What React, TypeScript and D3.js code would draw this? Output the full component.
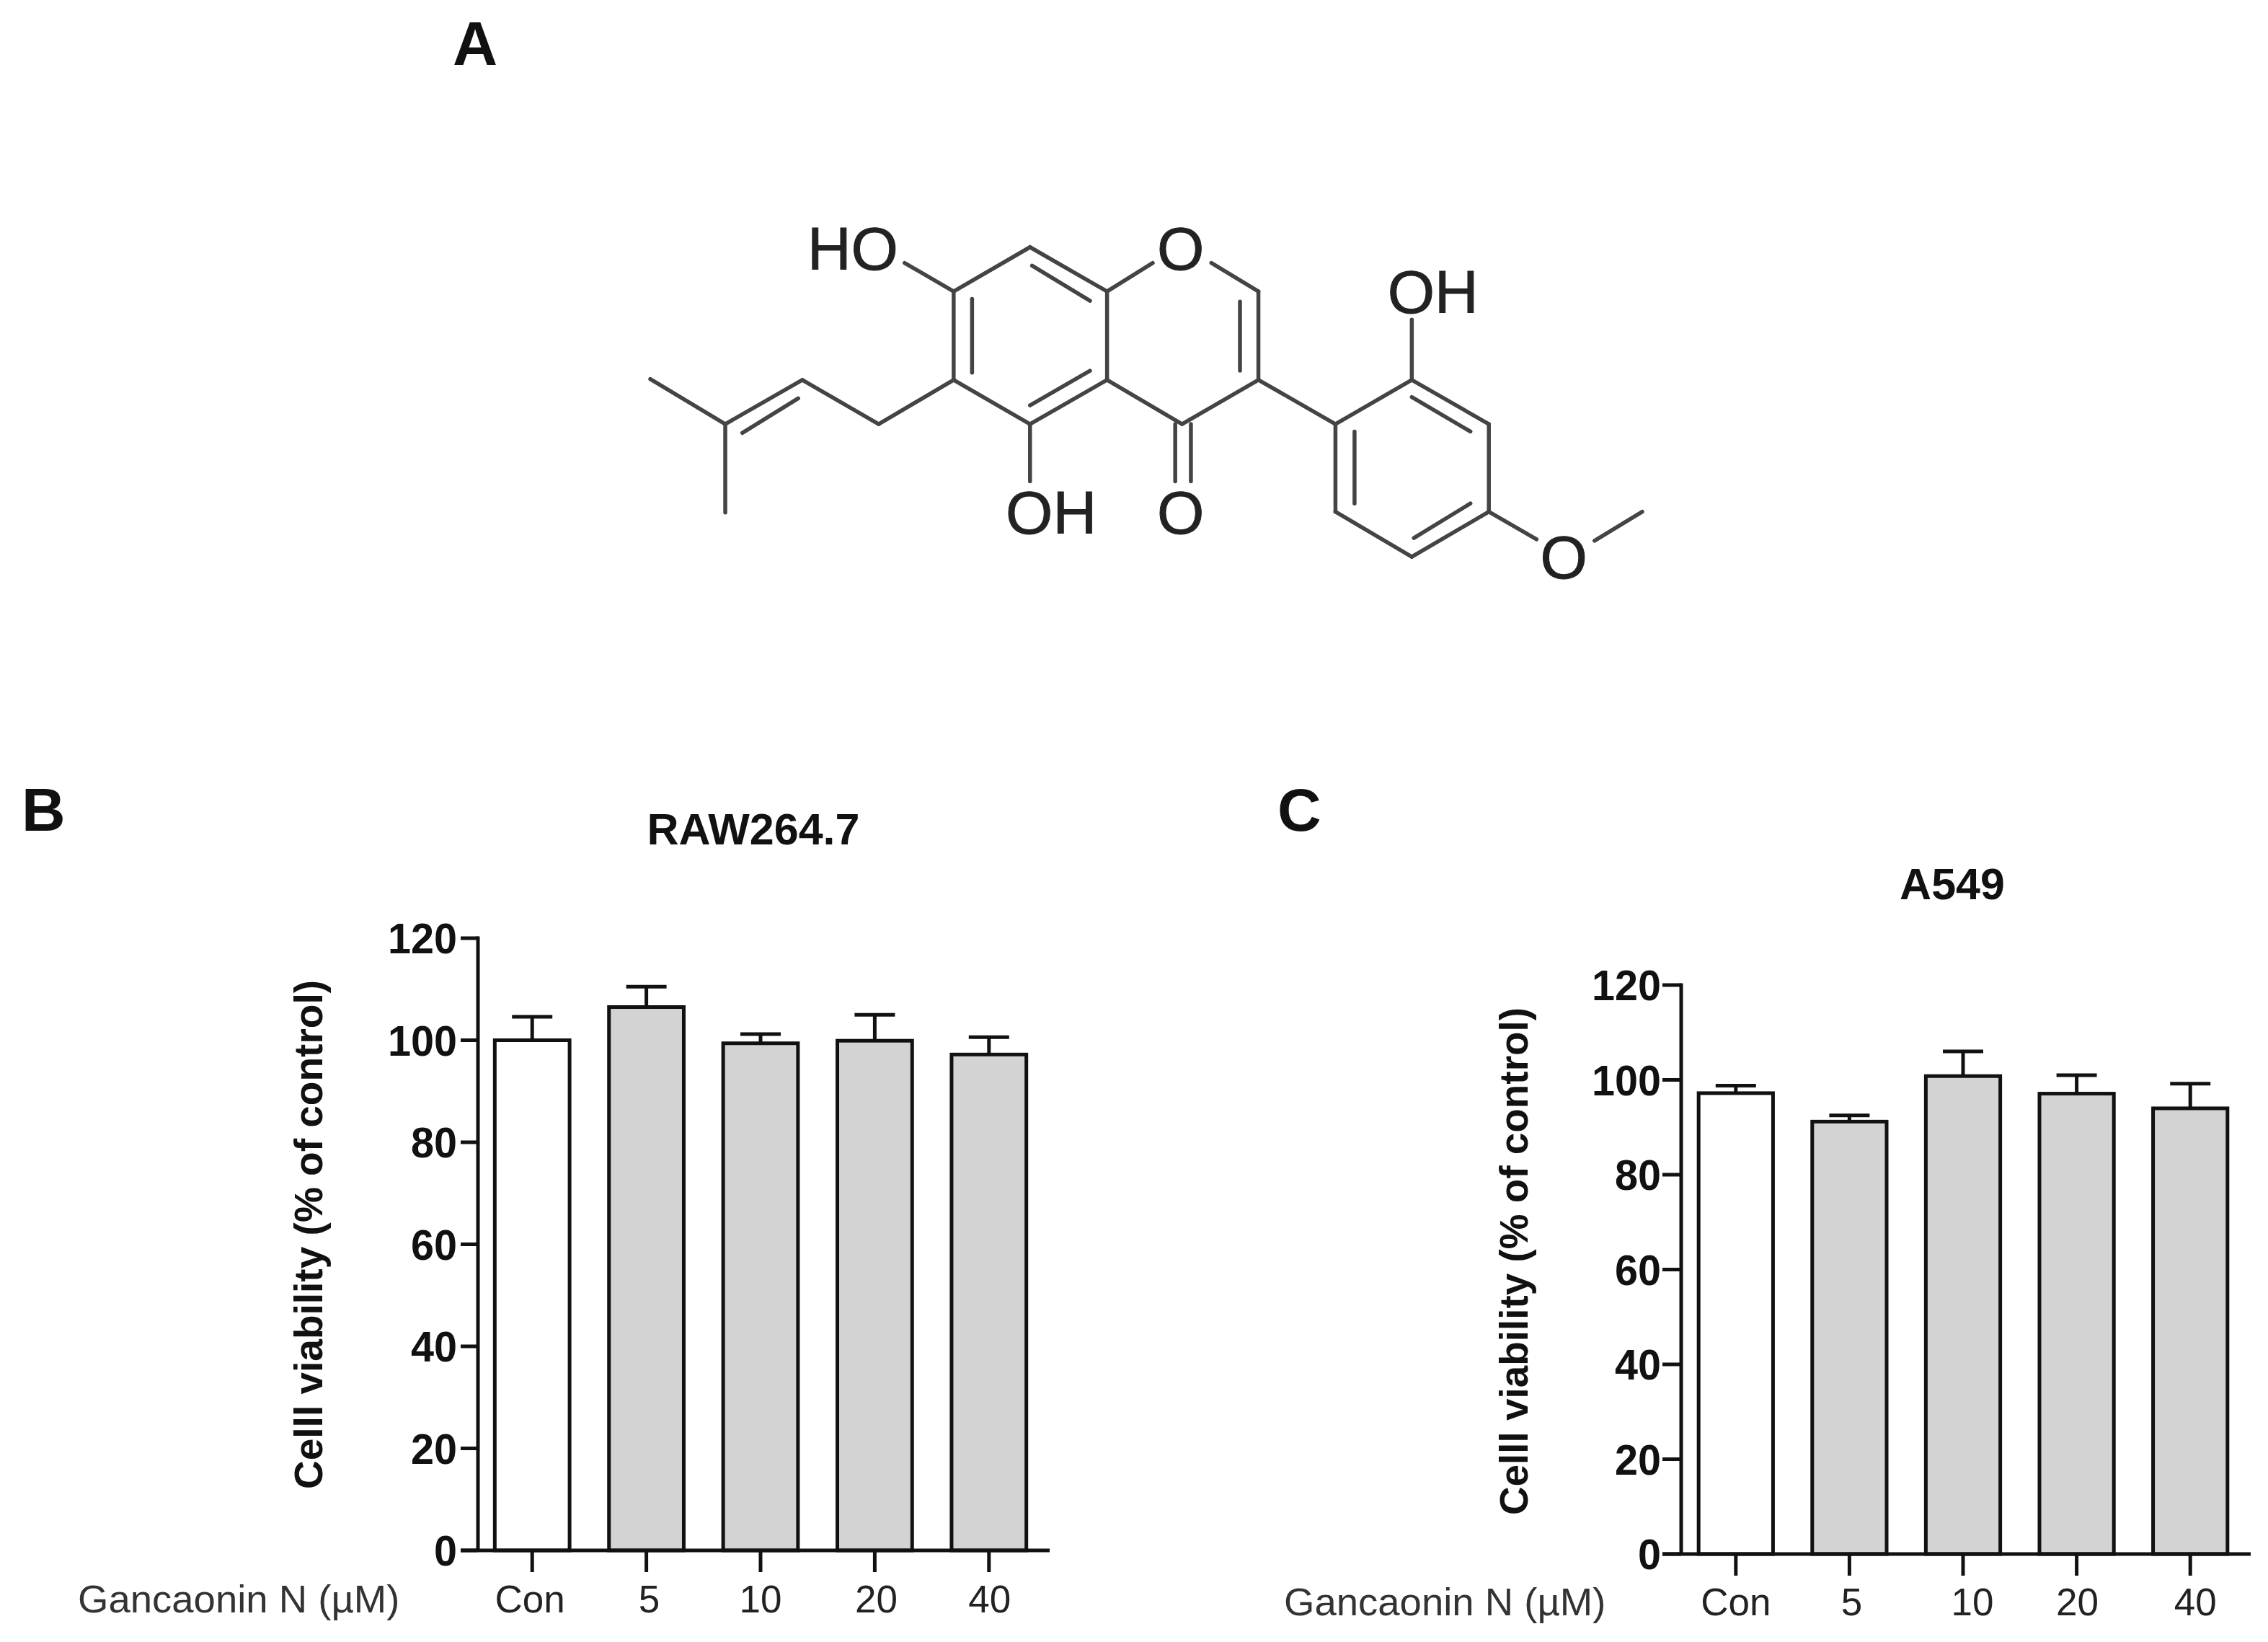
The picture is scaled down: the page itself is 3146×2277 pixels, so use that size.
import React from "react";
import * as d3 from "d3";

const categories = ["Con", "5", "10", "20", "40"];
const yTicks = [0, 20, 40, 60, 80, 100, 120];
const rawValues = [100, 106.5, 99.4, 99.9, 97.2];
const rawErrorTops = [104.6, 110.5, 101.2, 105, 100.6];
const a549Values = [97.2, 91.2, 100.8, 97.1, 94];
const a549ErrorTops = [98.8, 92.5, 106, 101, 99.2];

// Chemical structure (Gancaonin N): bond segments in drawing units
const bonds: number[][] = [
  [428, 325, 500, 428], [500, 428, 612, 268], [612, 268, 725, 428], [615, 335, 700, 462],
  [725, 428, 792, 325], [878, 325, 947, 428], [947, 428, 947, 748], [920, 465, 920, 715],
  [725, 428, 725, 748], [500, 428, 500, 748], [527, 455, 527, 722],
  [500, 748, 612, 908], [612, 908, 725, 748], [612, 840, 700, 715],
  [725, 748, 835, 908], [835, 908, 947, 748], [825, 908, 825, 1115], [848, 908, 848, 1115],
  [612, 908, 612, 1115], [500, 748, 390, 908], [390, 908, 278, 748], [278, 748, 165, 908],
  [272, 815, 190, 940], [165, 908, 55, 745], [165, 908, 165, 1228],
  [947, 748, 1060, 908], [1060, 908, 1172, 748], [1172, 748, 1285, 908], [1172, 810, 1258, 935],
  [1285, 908, 1285, 1225], [1285, 1225, 1172, 1388], [1258, 1195, 1175, 1320],
  [1172, 1388, 1060, 1225], [1060, 1225, 1060, 908], [1088, 935, 1088, 1195],
  [1172, 748, 1172, 530], [1285, 1225, 1355, 1325], [1440, 1330, 1510, 1225],
];
const atomLabels: [string, number, number, string][] = [
  ["HO", 352, 350, "middle"], ["O", 833, 350, "middle"], ["OH", 1203, 505, "middle"],
  ["OH", 643, 1305, "middle"], ["O", 833, 1305, "middle"], ["O", 1395, 1465, "middle"],
];

const FONT = "'Liberation Sans', Arial, sans-serif";
const molX = d3.scaleLinear().domain([0, 1565]).range([850, 2330]);
const molY = d3.scaleLinear().domain([0, 1565]).range([240, 840]);

type PanelProps = {
  letter: string; letterX: number; letterY: number;
  title: string; titleX: number; titleY: number;
  values: number[]; tops: number[];
  axisX: number; bandStart: number; bandEnd: number; y0: number; y120: number; tickLen: number;
  xAxisEnd: number; labelRight: number; xLabelY: number; xOffsets: number[];
  gancX: number; yLabelX: number; yLabelY: number; yLabelLen: number;
};

function Panel(p: PanelProps) {
  const x = d3.scaleBand<string>().domain(categories).range([p.bandStart, p.bandEnd]).paddingInner(0.345).paddingOuter(0.1725);
  const y = d3.scaleLinear().domain([0, 120]).range([p.y0, p.y120]);
  const sw = 5;
  return (
    <g fontFamily={FONT} fill="#111">
      <text x={p.letterX} y={p.letterY} fontSize={84} fontWeight="bold">{p.letter}</text>
      <text x={p.titleX} y={p.titleY} fontSize={61} fontWeight="bold" textAnchor="middle">{p.title}</text>
      <text
        transform={`translate(${p.yLabelX},${p.yLabelY}) rotate(-90)`}
        fontSize={56} fontWeight="bold" textAnchor="middle"
        textLength={p.yLabelLen} lengthAdjust="spacingAndGlyphs"
      >Celll viability (% of control)</text>
      {categories.map((c, i) => {
        const bx = x(c) as number;
        const cx = bx + x.bandwidth() / 2;
        return (
          <g key={c}>
            <line x1={cx} x2={cx} y1={y(p.values[i])} y2={y(p.tops[i])} stroke="#111" strokeWidth={sw} />
            <line x1={cx - 28} x2={cx + 28} y1={y(p.tops[i])} y2={y(p.tops[i])} stroke="#111" strokeWidth={sw} />
            <rect x={bx} y={y(p.values[i])} width={x.bandwidth()} height={p.y0 - y(p.values[i])}
              fill={i === 0 ? "#ffffff" : "#d3d3d3"} stroke="#111" strokeWidth={sw} />
            <line x1={cx} x2={cx} y1={p.y0} y2={p.y0 + 30} stroke="#111" strokeWidth={sw} />
            <text x={cx + p.xOffsets[i]} y={p.xLabelY} fontSize={53} textAnchor="middle" fill="#222">{c}</text>
          </g>
        );
      })}
      <line x1={p.axisX} x2={p.axisX} y1={p.y120 - 2.5} y2={p.y0} stroke="#111" strokeWidth={sw} />
      <line x1={p.axisX - p.tickLen} x2={p.xAxisEnd} y1={p.y0} y2={p.y0} stroke="#111" strokeWidth={sw} />
      {yTicks.map((t) => (
        <g key={t}>
          <line x1={p.axisX - p.tickLen} x2={p.axisX} y1={y(t)} y2={y(t)} stroke="#111" strokeWidth={sw} />
          <text x={p.labelRight} y={y(t) + 21} fontSize={60} fontWeight="bold" textAnchor="end"
            textLength={t >= 100 ? 96 : t > 0 ? 64 : 32} lengthAdjust="spacingAndGlyphs">{t}</text>
        </g>
      ))}
      <text x={p.gancX} y={p.xLabelY} fontSize={54.5} fill="#333">Gancaonin N (µM)</text>
    </g>
  );
}

export default function App() {
  return (
    <svg width={3146} height={2277} viewBox="0 0 3146 2277"
      style={{ position: "absolute", left: 0, top: 0, display: "block", background: "#fff" }}>
      <text x={628} y={90} fontFamily={FONT} fontSize={86} fontWeight="bold" fill="#111">A</text>
      <g stroke="#444" strokeWidth={5.5} strokeLinecap="round">
        {bonds.map((b, i) => (
          <line key={i} x1={molX(b[0])} y1={molY(b[1])} x2={molX(b[2])} y2={molY(b[3])} />
        ))}
      </g>
      {atomLabels.map(([t, ax, ay, anchor], i) => (
        <text key={i} x={molX(ax)} y={molY(ay)} fontFamily={FONT} fontSize={84} textAnchor={anchor as any} fill="#222" stroke="#222" strokeWidth={1}>{t}</text>
      ))}
      <Panel letter="B" letterX={30} letterY={1152} title="RAW264.7" titleX={1045} titleY={1171}
        values={rawValues} tops={rawErrorTops}
        axisX={663} bandStart={659} bandEnd={1451} y0={2150} y120={1301} tickLen={24} xAxisEnd={1456}
        labelRight={634} xLabelY={2236} xOffsets={[-3, 4, 0, 2, 1]} gancX={108}
        yLabelX={447} yLabelY={1712} yLabelLen={706} />
      <Panel letter="C" letterX={1772} letterY={1152} title="A549" titleX={2708} titleY={1247}
        values={a549Values} tops={a549ErrorTops}
        axisX={2332} bandStart={2329} bandEnd={3117} y0={2155} y120={1366} tickLen={26} xAxisEnd={3122}
        labelRight={2304} xLabelY={2240} xOffsets={[0, 3, 13, 1, 7]} gancX={1781}
        yLabelX={2119} yLabelY={1749} yLabelLen={704} />
    </svg>
  );
}
